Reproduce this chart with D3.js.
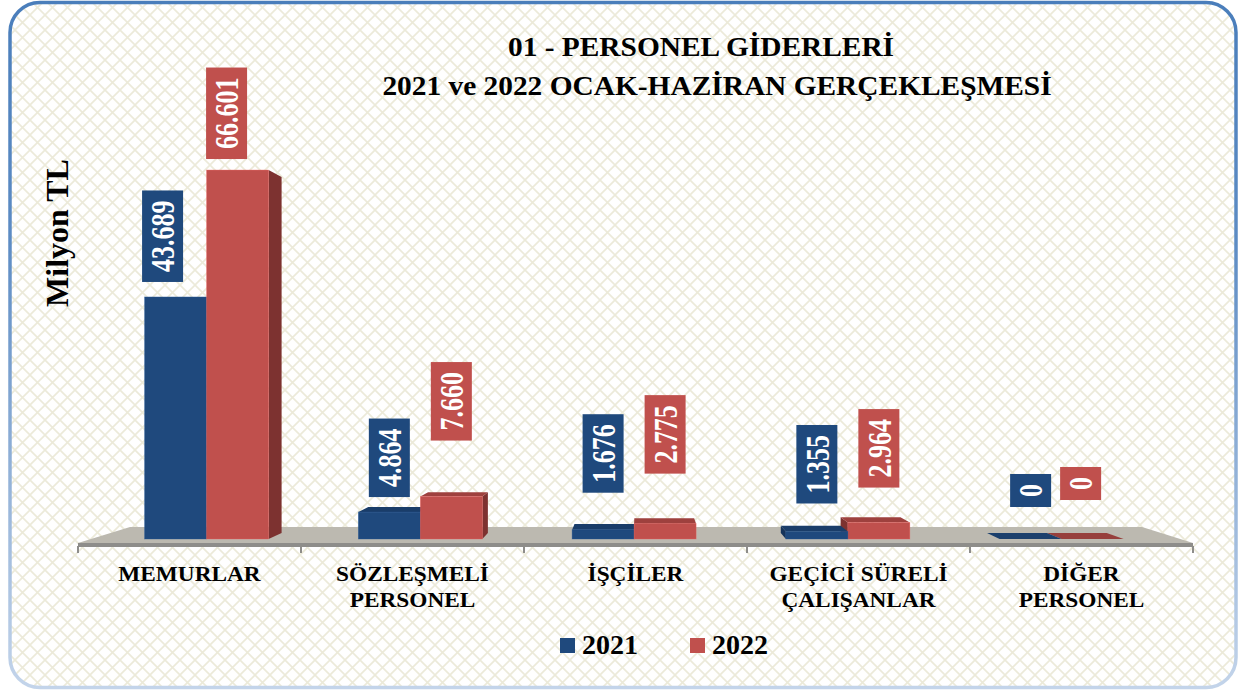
<!DOCTYPE html>
<html>
<head>
<meta charset="utf-8">
<script src="https://cdn.jsdelivr.net/npm/d3@7"></script>
<style>
  body { margin: 0; background: #fff; }
  svg { display: block; }
  text { font-family: "Liberation Serif", "Times New Roman", serif; font-weight: bold; }
</style>
</head>
<body>
<svg id="chart" width="1241" height="691"></svg>
<script>
/* 01 - Personel giderleri, 2021 / 2022 Ocak-Haziran, pseudo-3D clustered columns */
var categories = ['MEMURLAR', 'SÖZLEŞMELİ PERSONEL', 'İŞÇİLER', 'GEÇİCİ SÜRELİ ÇALIŞANLAR', 'DİĞER PERSONEL'];
var categoryLines = [['MEMURLAR'], ['SÖZLEŞMELİ', 'PERSONEL'], ['İŞÇİLER'], ['GEÇİCİ SÜRELİ', 'ÇALIŞANLAR'], ['DİĞER', 'PERSONEL']];
var years = ['2021', '2022'];
var values2021 = [43689, 4864, 1676, 1355, 0];
var values2022 = [66601, 7660, 2775, 2964, 0];
var titleLines = ['01 - PERSONEL GİDERLERİ', '2021 ve 2022 OCAK-HAZİRAN GERÇEKLEŞMESİ'];
var yTitle = 'Milyon TL';

// label boxes were dragged by hand in the original: gap (px) above each bar, sideways nudge
var labelGap2021 = [15, 15, 37, 28, 32];
var labelGap2022 = [11, 56, 50, 35, 39];
var labelDx2021 = [-13, 0, 0, 0, 0];
var labelDx2022 = [-11, 0, 0, 0, -12];

(function () {
  'use strict';

  var svg = d3.select('#chart');
  var colors = {
    '2021': { front: '#1f497d', side: '#15335a', top: '#1a3d69', flat: '#1b3f6c' },
    '2022': { front: '#c0504d', side: '#7d3230', top: '#9e413e', flat: '#973f3c' }
  };
  var trNum = d3.formatLocale({ decimal: ',', thousands: '.', grouping: [3], currency: ['', ' TL'] }).format(',d');

  /* background + frame */
  var defs = svg.append('defs');
  var pat = defs.append('pattern').attr('id', 'lattice')
    .attr('patternUnits', 'userSpaceOnUse').attr('width', 15).attr('height', 15);
  pat.append('rect').attr('width', 15).attr('height', 15).attr('fill', '#fff');
  pat.append('path').attr('d', 'M0,0L15,15M15,0L0,15')
    .attr('stroke', '#ecead9').attr('stroke-width', 1.6).attr('fill', 'none');

  var grad = defs.append('linearGradient').attr('id', 'frame')
    .attr('x1', 0).attr('y1', 0).attr('x2', 0).attr('y2', 1);
  grad.append('stop').attr('offset', '0%').attr('stop-color', '#4a7ebb');
  grad.append('stop').attr('offset', '35%').attr('stop-color', '#5d8cc4');
  grad.append('stop').attr('offset', '100%').attr('stop-color', '#c3d4ea');

  svg.append('rect')
    .attr('x', 10).attr('y', 2.5).attr('width', 1226).attr('height', 685)
    .attr('rx', 30).attr('ry', 30)
    .attr('fill', 'url(#lattice)').attr('stroke', 'url(#frame)').attr('stroke-width', 3.5);

  /* title */
  svg.selectAll('text.title').data(titleLines).enter().append('text')
    .attr('class', 'title')
    .attr('text-anchor', 'middle')
    .attr('transform', function (d, i) {
      return 'translate(' + (i === 0 ? 701 : 717) + ',' + (i === 0 ? 56 : 95) + ') scale(1.05,1)';
    })
    .attr('font-size', 28)
    .attr('fill', '#000')
    .text(function (d) { return d; });

  /* y title */
  svg.append('text')
    .attr('transform', 'translate(68,233) rotate(-90)')
    .attr('text-anchor', 'middle')
    .attr('font-size', 32)
    .text(yTitle);

  /* perspective: vanishing point; floor front edge, back edge */
  var V = { x: 640.8, y: 370 };
  function toward(p, k) { return [V.x + (p[0] - V.x) * k, V.y + (p[1] - V.y) * k]; }
  var kFloor = 0.9076, kBar = 0.965;

  var axisX = d3.scaleBand().domain(categories).range([78, 1193]);
  var barX = d3.scaleBand().domain(categories).range([99.7, 1168.5]);
  var inner = d3.scaleBand().domain(years).range([0, 124]);
  var y = d3.scaleLinear().domain([0, 70000]).range([539, 151.2]);

  var floorY = 543;
  var fl = [78, floorY], fr = [1193, floorY];
  var floor = svg.append('g');
  floor.append('path')
    .attr('d', 'M' + [fl, toward(fl, kFloor), toward(fr, kFloor), fr].join('L') + 'Z')
    .attr('fill', '#bcb9b0');
  floor.append('rect')
    .attr('x', 78).attr('y', floorY).attr('width', 1115).attr('height', 4)
    .attr('fill', '#8e8d8a');

  /* ticks */
  var tickXs = categories.map(function (c) { return axisX(c); }).concat([axisX.range()[1]]);
  floor.selectAll('line.tick').data(tickXs).enter().append('line')
    .attr('x1', function (d) { return d; }).attr('x2', function (d) { return d; })
    .attr('y1', floorY + 3).attr('y2', floorY + 10)
    .attr('stroke', '#8e8d8a').attr('stroke-width', 2);

  /* bars */
  var bars = [];
  categories.forEach(function (c, i) {
    [values2021[i], values2022[i]].forEach(function (v, j) {
      var yr = years[j];
      var x0 = barX(c) + barX.bandwidth() / 2 - inner.bandwidth() + inner(yr);
      bars.push({ cat: c, i: i, year: yr, value: v, x0: x0, x1: x0 + inner.bandwidth(),
        gap: (j === 0 ? labelGap2021 : labelGap2022)[i],
        dx: (j === 0 ? labelDx2021 : labelDx2022)[i] });
    });
  });
  // painter's order: outer bars first
  var drawOrder = bars.slice().sort(function (a, b) {
    return Math.abs((b.x0 + b.x1) / 2 - V.x) - Math.abs((a.x0 + a.x1) / 2 - V.x);
  });

  var gBars = svg.append('g');
  function poly(pts) { return 'M' + pts.join('L') + 'Z'; }

  drawOrder.forEach(function (b) {
    var col = colors[b.year];
    var yT = y(b.value), yB = y(0);
    var g = gBars.append('g');
    var ftl = [b.x0, yT], ftr = [b.x1, yT], fbl = [b.x0, yB], fbr = [b.x1, yB];
    if (b.value === 0) {
      g.append('path').attr('d', poly([fbl, fbr, toward(fbr, kBar), toward(fbl, kBar)]))
        .attr('fill', col.flat);
      return;
    }
    var leftOfV = (b.x0 + b.x1) / 2 < V.x;
    var sideA = leftOfV ? ftr : ftl, sideB = leftOfV ? fbr : fbl;
    g.append('path').attr('d', poly([sideA, toward(sideA, kBar), toward(sideB, kBar), sideB]))
      .attr('fill', col.side);
    if (yT > V.y) {
      g.append('path').attr('d', poly([ftl, ftr, toward(ftr, kBar), toward(ftl, kBar)]))
        .attr('fill', col.top);
    }
    g.append('rect')
      .attr('x', b.x0).attr('y', yT).attr('width', b.x1 - b.x0).attr('height', yB - yT)
      .attr('fill', col.front)
      .attr('stroke', d3.color(col.front).brighter(0.6)).attr('stroke-width', 0.6).attr('stroke-opacity', 0.6);
  });

  /* value labels */
  var fs = 26, pad = 10, boxW = 41;
  var gLab = svg.append('g');
  bars.forEach(function (b) {
    var txt = trNum(b.value);
    var probe = gLab.append('text').attr('font-size', fs).text(txt);
    var len = probe.node().getComputedTextLength();
    probe.remove();
    var boxH = len + pad * 2;
    var cx = (b.x0 + b.x1) / 2 + b.dx;
    var bottom = y(b.value) - b.gap;
    gLab.append('rect')
      .attr('x', cx - boxW / 2).attr('y', bottom - boxH)
      .attr('width', boxW).attr('height', boxH)
      .attr('fill', colors[b.year].front);
    gLab.append('text')
      .attr('transform', 'translate(' + cx + ',' + (bottom - boxH / 2) + ') scale(1.3,1) rotate(-90)')
      .attr('text-anchor', 'middle').attr('dy', '0.35em')
      .attr('font-size', fs).attr('fill', '#fff')
      .text(txt);
  });

  /* category labels */
  var gCat = svg.append('g');
  categories.forEach(function (c, i) {
    var cx = axisX(c) + axisX.bandwidth() / 2;
    categoryLines[i].forEach(function (line, k) {
      gCat.append('text')
        .attr('transform', 'translate(' + cx + ',' + (581 + k * 26) + ') scale(1.06,1)')
        .attr('text-anchor', 'middle').attr('font-size', 22)
        .text(line);
    });
  });

  /* legend */
  var legX = [560, 690];
  var leg = svg.append('g');
  years.forEach(function (yr, j) {
    leg.append('rect').attr('x', legX[j]).attr('y', 638).attr('width', 15).attr('height', 15)
      .attr('fill', colors[yr].front);
    leg.append('text').attr('x', legX[j] + 22).attr('y', 654)
      .attr('font-size', 28).text(yr);
  });
})();
</script>
</body>
</html>
